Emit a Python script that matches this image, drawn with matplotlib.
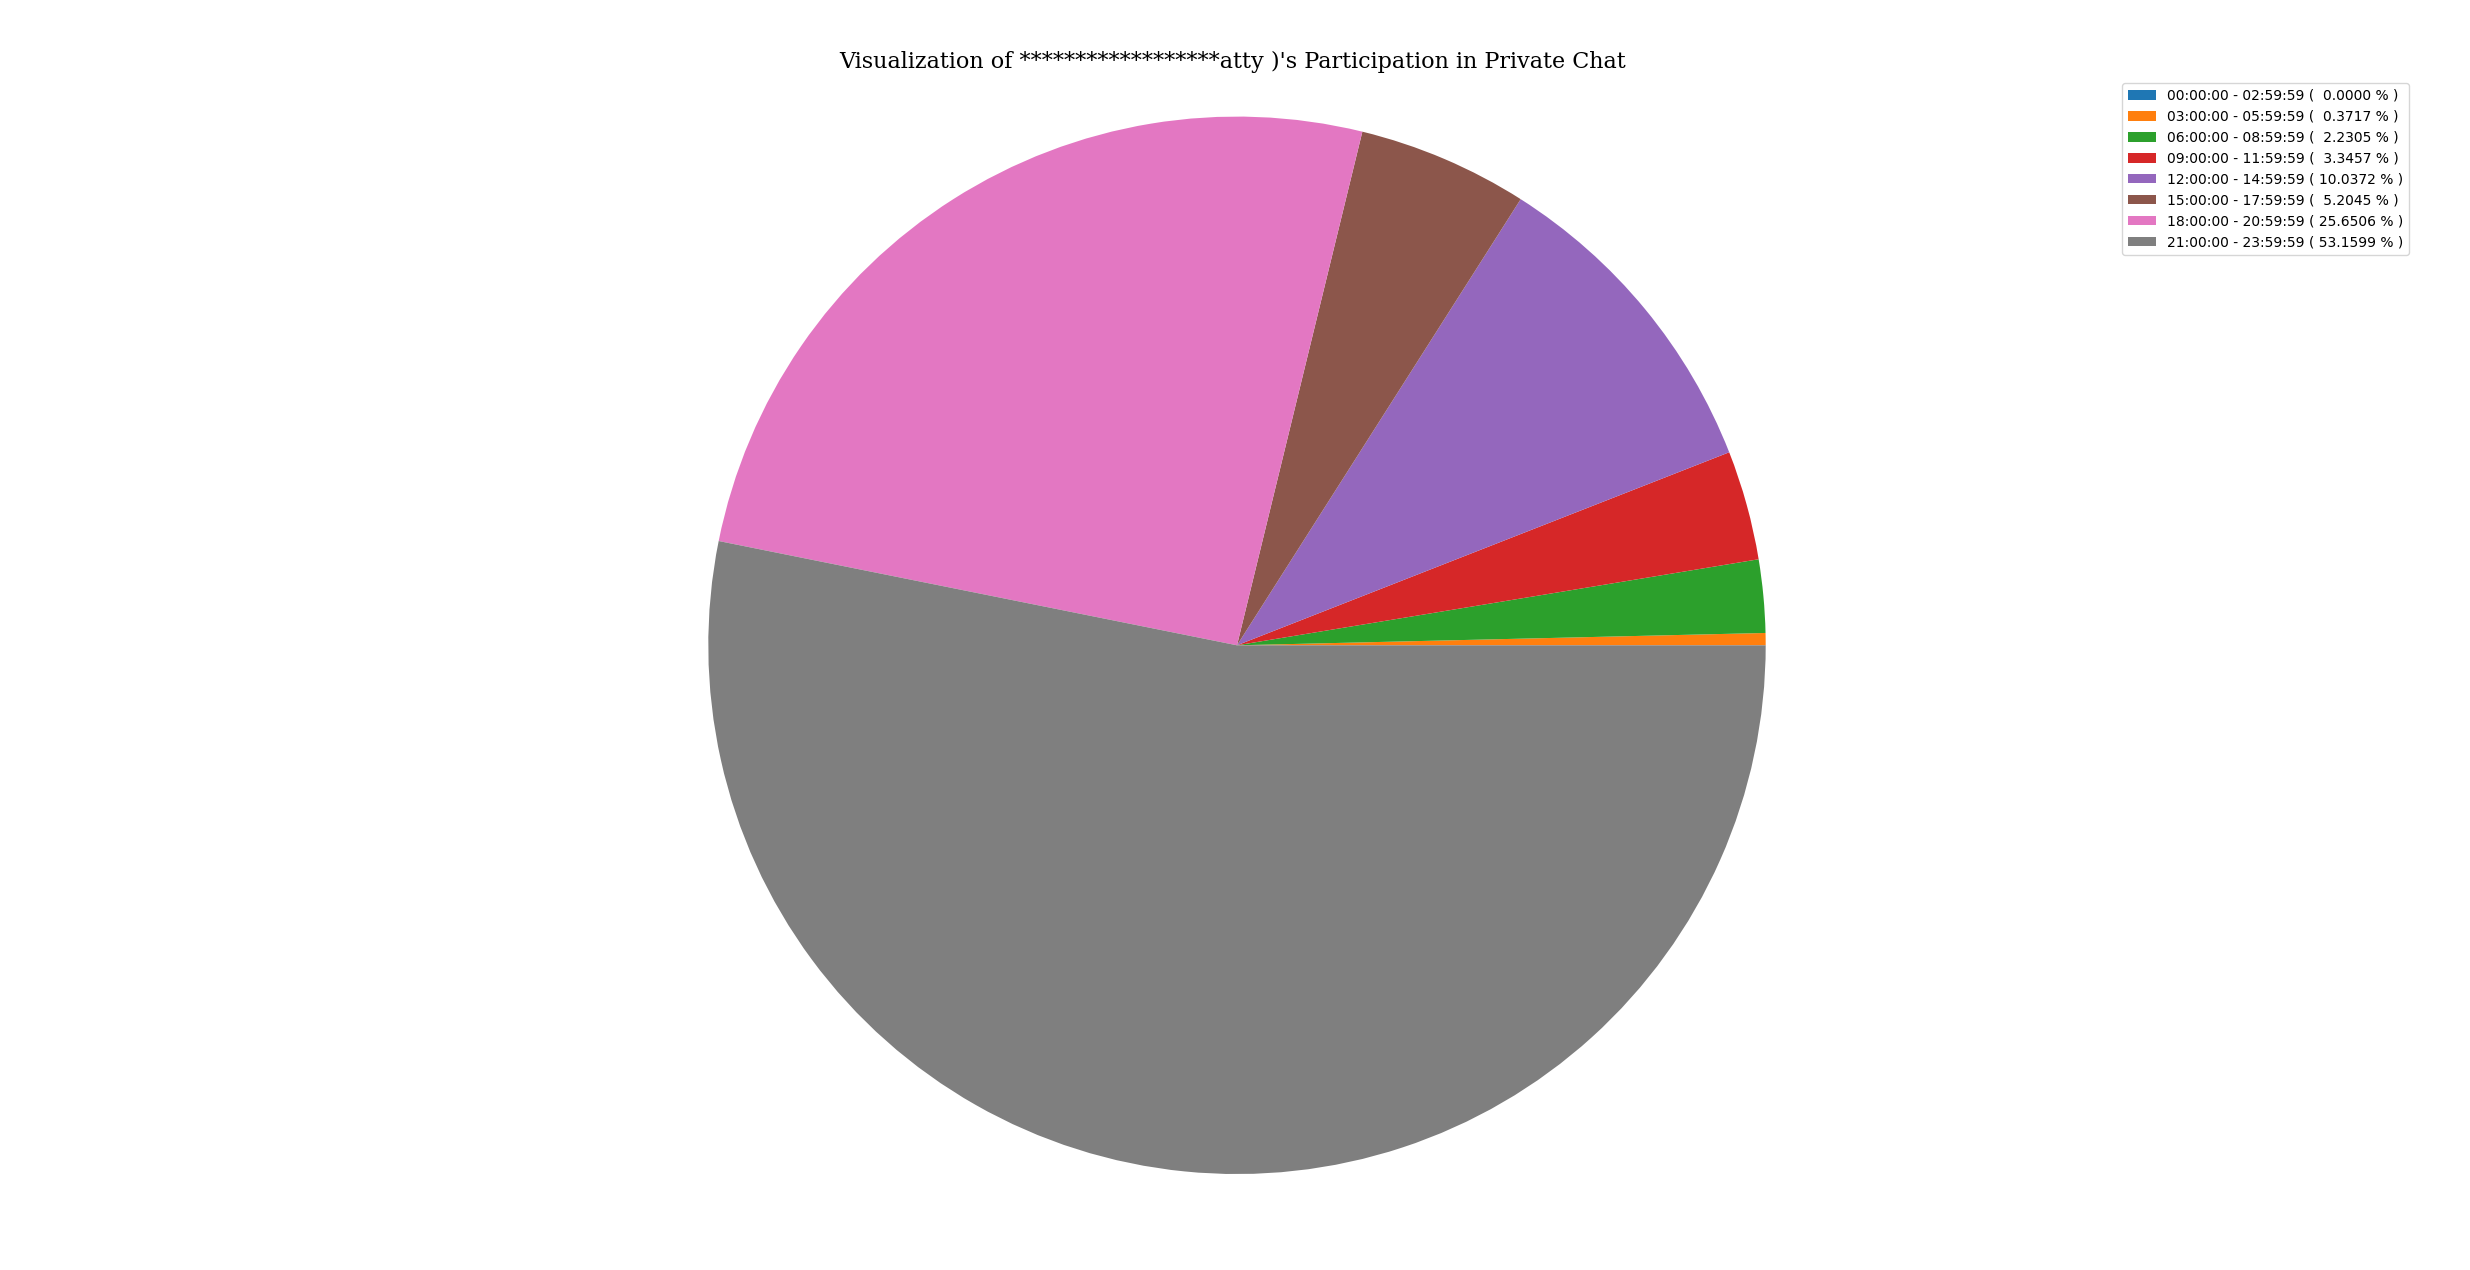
import matplotlib
matplotlib.use("Agg")
import matplotlib.pyplot as plt

time_ranges = [
    "00:00:00 - 02:59:59",
    "03:00:00 - 05:59:59",
    "06:00:00 - 08:59:59",
    "09:00:00 - 11:59:59",
    "12:00:00 - 14:59:59",
    "15:00:00 - 17:59:59",
    "18:00:00 - 20:59:59",
    "21:00:00 - 23:59:59",
]
percentages = [0.0000, 0.3717, 2.2305, 3.3457, 10.0372, 5.2045, 25.6506, 53.1599]

title = "Visualization of ******************atty )'s Participation in Private Chat"

fig, ax = plt.subplots(figsize=(24.7, 12.7), dpi=100)
fig.subplots_adjust(left=0.02, right=0.978, top=0.94, bottom=0.02)

wedges, _ = ax.pie(percentages)
ax.set_aspect('equal', adjustable='datalim')
ax.set_xlim(-2.2463, 2.2294)
ax.set_ylim(-1.1335, 1.0764)

labels = [f"{t} ( {p:7.4f} % )" for t, p in zip(time_ranges, percentages)]
ax.legend(wedges, labels, loc='upper right')

ax.set_title(title, fontfamily='serif', fontsize=16)

plt.savefig("out.png")
